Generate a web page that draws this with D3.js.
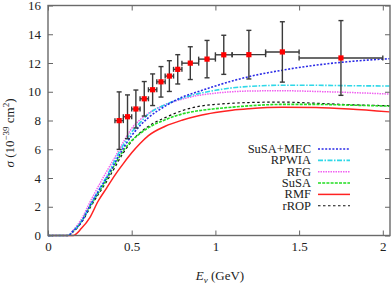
<!DOCTYPE html>
<html>
<head>
<meta charset="utf-8">
<script src="https://cdn.jsdelivr.net/npm/d3@7"></script>
<style>
  body { margin: 0; background: #fff; }
  svg { display: block; font-family: "Liberation Serif", "DejaVu Serif", serif; }
  .tick line { stroke: #666; }
  .tick text { font-size: 13px; fill: #222; }
</style>
</head>
<body>
<svg width="391" height="283"></svg>
<script>
// MiniBooNE-like data points
const dataE = [0.425, 0.475, 0.525, 0.575, 0.625, 0.675, 0.725, 0.775, 0.85, 0.95, 1.05, 1.2, 1.4, 1.75];
const binLow = [0.4, 0.45, 0.5, 0.55, 0.6, 0.65, 0.7, 0.75, 0.8, 0.9, 1.0, 1.1, 1.3, 1.5];
const binHigh = [0.45, 0.5, 0.55, 0.6, 0.65, 0.7, 0.75, 0.8, 0.9, 1.0, 1.1, 1.3, 1.5, 2.0];
const dataSigma = [7.99, 8.26, 8.80, 9.51, 10.14, 10.69, 11.09, 11.56, 11.99, 12.27, 12.57, 12.58, 12.77, 12.35];
const dataErr = [2.0, 1.52, 1.32, 1.2, 1.1, 1.06, 1.07, 1.02, 1.14, 1.3, 1.36, 1.69, 2.1, 2.6];

// model curves, all on the same energy grid
const curveE   = [0, 0.12, 0.15, 0.2, 0.25, 0.3, 0.35, 0.4, 0.45, 0.5, 0.55, 0.6, 0.7, 0.8, 0.9, 1.0, 1.1, 1.2, 1.4, 1.6, 1.8, 2.04];
const susaMec  = [0, 0, 0.3, 0.95, 2.05, 3.05, 4.0, 5.05, 6.08, 6.95, 7.65, 8.2, 9.0, 9.62, 10.02, 10.4, 10.75, 11.05, 11.5, 11.85, 12.1, 12.3];
const rpwia    = [0, 0, 0.3, 1.0, 2.07, 3.1, 4.1, 5.25, 6.3, 7.2, 7.85, 8.45, 9.1, 9.55, 9.87, 10.1, 10.27, 10.37, 10.45, 10.45, 10.42, 10.4];
const rfg      = [0, 0, 0.35, 1.15, 2.3, 3.4, 4.45, 5.45, 6.5, 7.45, 8.05, 8.5, 9.1, 9.48, 9.75, 9.9, 10.0, 10.05, 10.07, 10.02, 9.95, 9.84];
const susa     = [0, 0, 0.3, 1.0, 2.0, 2.95, 3.9, 4.95, 5.9, 6.6, 7.1, 7.5, 8.05, 8.45, 8.68, 8.82, 8.93, 9.02, 9.12, 9.12, 9.07, 9.0];
const rmf      = [0, 0, 0, 0.5, 1.25, 2.4, 3.3, 4.2, 5.0, 5.75, 6.4, 6.95, 7.6, 8.02, 8.33, 8.55, 8.72, 8.82, 8.92, 8.9, 8.8, 8.6];
const rrop     = [0, 0, 0.25, 0.9, 1.9, 2.85, 3.75, 4.75, 5.75, 6.55, 7.15, 7.6, 8.2, 8.68, 8.98, 9.12, 9.2, 9.25, 9.28, 9.2, 9.1, 9.03];

const xTicks = [0, 0.5, 1, 1.5, 2];
const yTicks = [0, 2, 4, 6, 8, 10, 12, 14, 16];

const series = [
    { name: "SuSA+MEC", values: susaMec, color: "#2a2ae6", dash: "2,1.6", width: 1.6 },
    { name: "RPWIA", values: rpwia, color: "#2ed8e8", dash: "5,1.5,1.5,1.5", width: 1.6 },
    { name: "RFG", values: rfg, color: "#f060f0", dash: "1.5,1", width: 1.5 },
    { name: "SuSA", values: susa, color: "#22dd22", dash: "3,1.2", width: 1.6 },
    { name: "RMF", values: rmf, color: "#ff2222", dash: null, width: 1.5 },
    { name: "rROP", values: rrop, color: "#111", dash: "2.5,2.5", width: 1.2 }
];

const svg = d3.select("svg"),
    mLeft = 48, mRight = 390, mTop = 5.5, mBottom = 235.5;

const x = d3.scaleLinear().domain([0, 2.043]).range([mLeft, mRight]);
const y = d3.scaleLinear().domain([0, 16]).range([mBottom, mTop]);

// axes with inward ticks on all four sides
svg.append("g")
    .attr("transform", `translate(0,${mBottom})`)
    .call(d3.axisBottom(x).tickValues(xTicks).tickSize(-5).tickPadding(6).tickFormat(d3.format("")))
    .call(g => g.select(".domain").remove());

svg.append("g")
    .attr("transform", `translate(0,${mTop})`)
    .call(d3.axisTop(x).tickValues(xTicks).tickSize(-5).tickFormat(""))
    .call(g => g.select(".domain").remove());

svg.append("g")
    .attr("transform", `translate(${mLeft},0)`)
    .call(d3.axisLeft(y).tickValues(yTicks).tickSize(-5).tickPadding(7))
    .call(g => g.select(".domain").remove());

svg.append("g")
    .attr("transform", `translate(${mRight},0)`)
    .call(d3.axisRight(y).tickValues(yTicks).tickSize(-5).tickFormat(""))
    .call(g => g.select(".domain").remove());

svg.selectAll("g[font-family]").attr("font-family", null).attr("font-size", null);

// curves
const plot = svg.append("g");
const line = d3.line()
    .x((d, i) => x(curveE[i]))
    .y(d => y(d))
    .curve(d3.curveMonotoneX);

series.slice().reverse().forEach(s => {
    plot.append("path")
        .attr("d", line(s.values))
        .attr("fill", "none")
        .attr("stroke", s.color)
        .attr("stroke-width", s.width)
        .attr("stroke-dasharray", s.dash);
});

// data points with error bars
const pts = dataE.map((e, i) => ({ e, lo: binLow[i], hi: binHigh[i], s: dataSigma[i], err: dataErr[i] }));
const eb = plot.append("g").attr("stroke", "#3a3a3a").attr("stroke-width", 1.4);

pts.forEach(d => {
    const cx = x(d.e), cy = y(d.s);
    eb.append("line").attr("x1", cx).attr("x2", cx).attr("y1", y(d.s - d.err)).attr("y2", y(d.s + d.err));
    eb.append("line").attr("x1", cx - 2.5).attr("x2", cx + 2.5).attr("y1", y(d.s + d.err)).attr("y2", y(d.s + d.err));
    eb.append("line").attr("x1", cx - 2.5).attr("x2", cx + 2.5).attr("y1", y(d.s - d.err)).attr("y2", y(d.s - d.err));
    eb.append("line").attr("x1", x(d.lo)).attr("x2", x(d.hi)).attr("y1", cy).attr("y2", cy);
    eb.append("line").attr("x1", x(d.lo)).attr("x2", x(d.lo)).attr("y1", cy - 2.5).attr("y2", cy + 2.5);
    eb.append("line").attr("x1", x(d.hi)).attr("x2", x(d.hi)).attr("y1", cy - 2.5).attr("y2", cy + 2.5);
});

plot.selectAll(".pt")
    .data(pts)
    .enter().append("rect")
    .attr("class", "pt")
    .attr("x", d => x(d.e) - 2.6)
    .attr("y", d => y(d.s) - 2.6)
    .attr("width", 5.2)
    .attr("height", 5.2)
    .attr("fill", "#ff0000");

// frame
svg.append("rect")
    .attr("x", mLeft).attr("y", mTop)
    .attr("width", mRight - mLeft).attr("height", mBottom - mTop)
    .attr("fill", "none").attr("stroke", "#6a6a6a").attr("stroke-width", 1.4);

// legend
const legend = svg.append("g");
series.forEach((s, i) => {
    const ly = 149 + i * 11.35;
    legend.append("text")
        .attr("x", 311).attr("y", ly + 4)
        .attr("text-anchor", "end")
        .attr("font-size", 12.5)
        .attr("fill", "#222")
        .text(s.name);
    legend.append("line")
        .attr("x1", 318).attr("x2", 350)
        .attr("y1", ly).attr("y2", ly)
        .attr("stroke", s.color)
        .attr("stroke-width", s.width)
        .attr("stroke-dasharray", s.dash);
});

// axis titles
const xl = svg.append("text")
    .attr("x", 220).attr("y", 280)
    .attr("text-anchor", "middle")
    .attr("font-size", 13)
    .attr("fill", "#222");
xl.append("tspan").attr("font-style", "italic").text("E");
xl.append("tspan").attr("font-size", 9).attr("font-style", "italic").attr("dy", 2.5).text("ν");
xl.append("tspan").attr("dy", -2.5).text(" (GeV)");

const yl = svg.append("text")
    .attr("transform", "translate(14,133) rotate(-90)")
    .attr("text-anchor", "middle")
    .attr("font-size", 13)
    .attr("fill", "#222");
yl.append("tspan").attr("font-style", "italic").text("σ");
yl.append("tspan").text(" (10");
yl.append("tspan").attr("font-size", 9).attr("dy", -5).text("−39");
yl.append("tspan").attr("dy", 5).text(" cm");
yl.append("tspan").attr("font-size", 9).attr("dy", -5).text("2");
yl.append("tspan").attr("dy", 5).text(")");
</script>
</body>
</html>
